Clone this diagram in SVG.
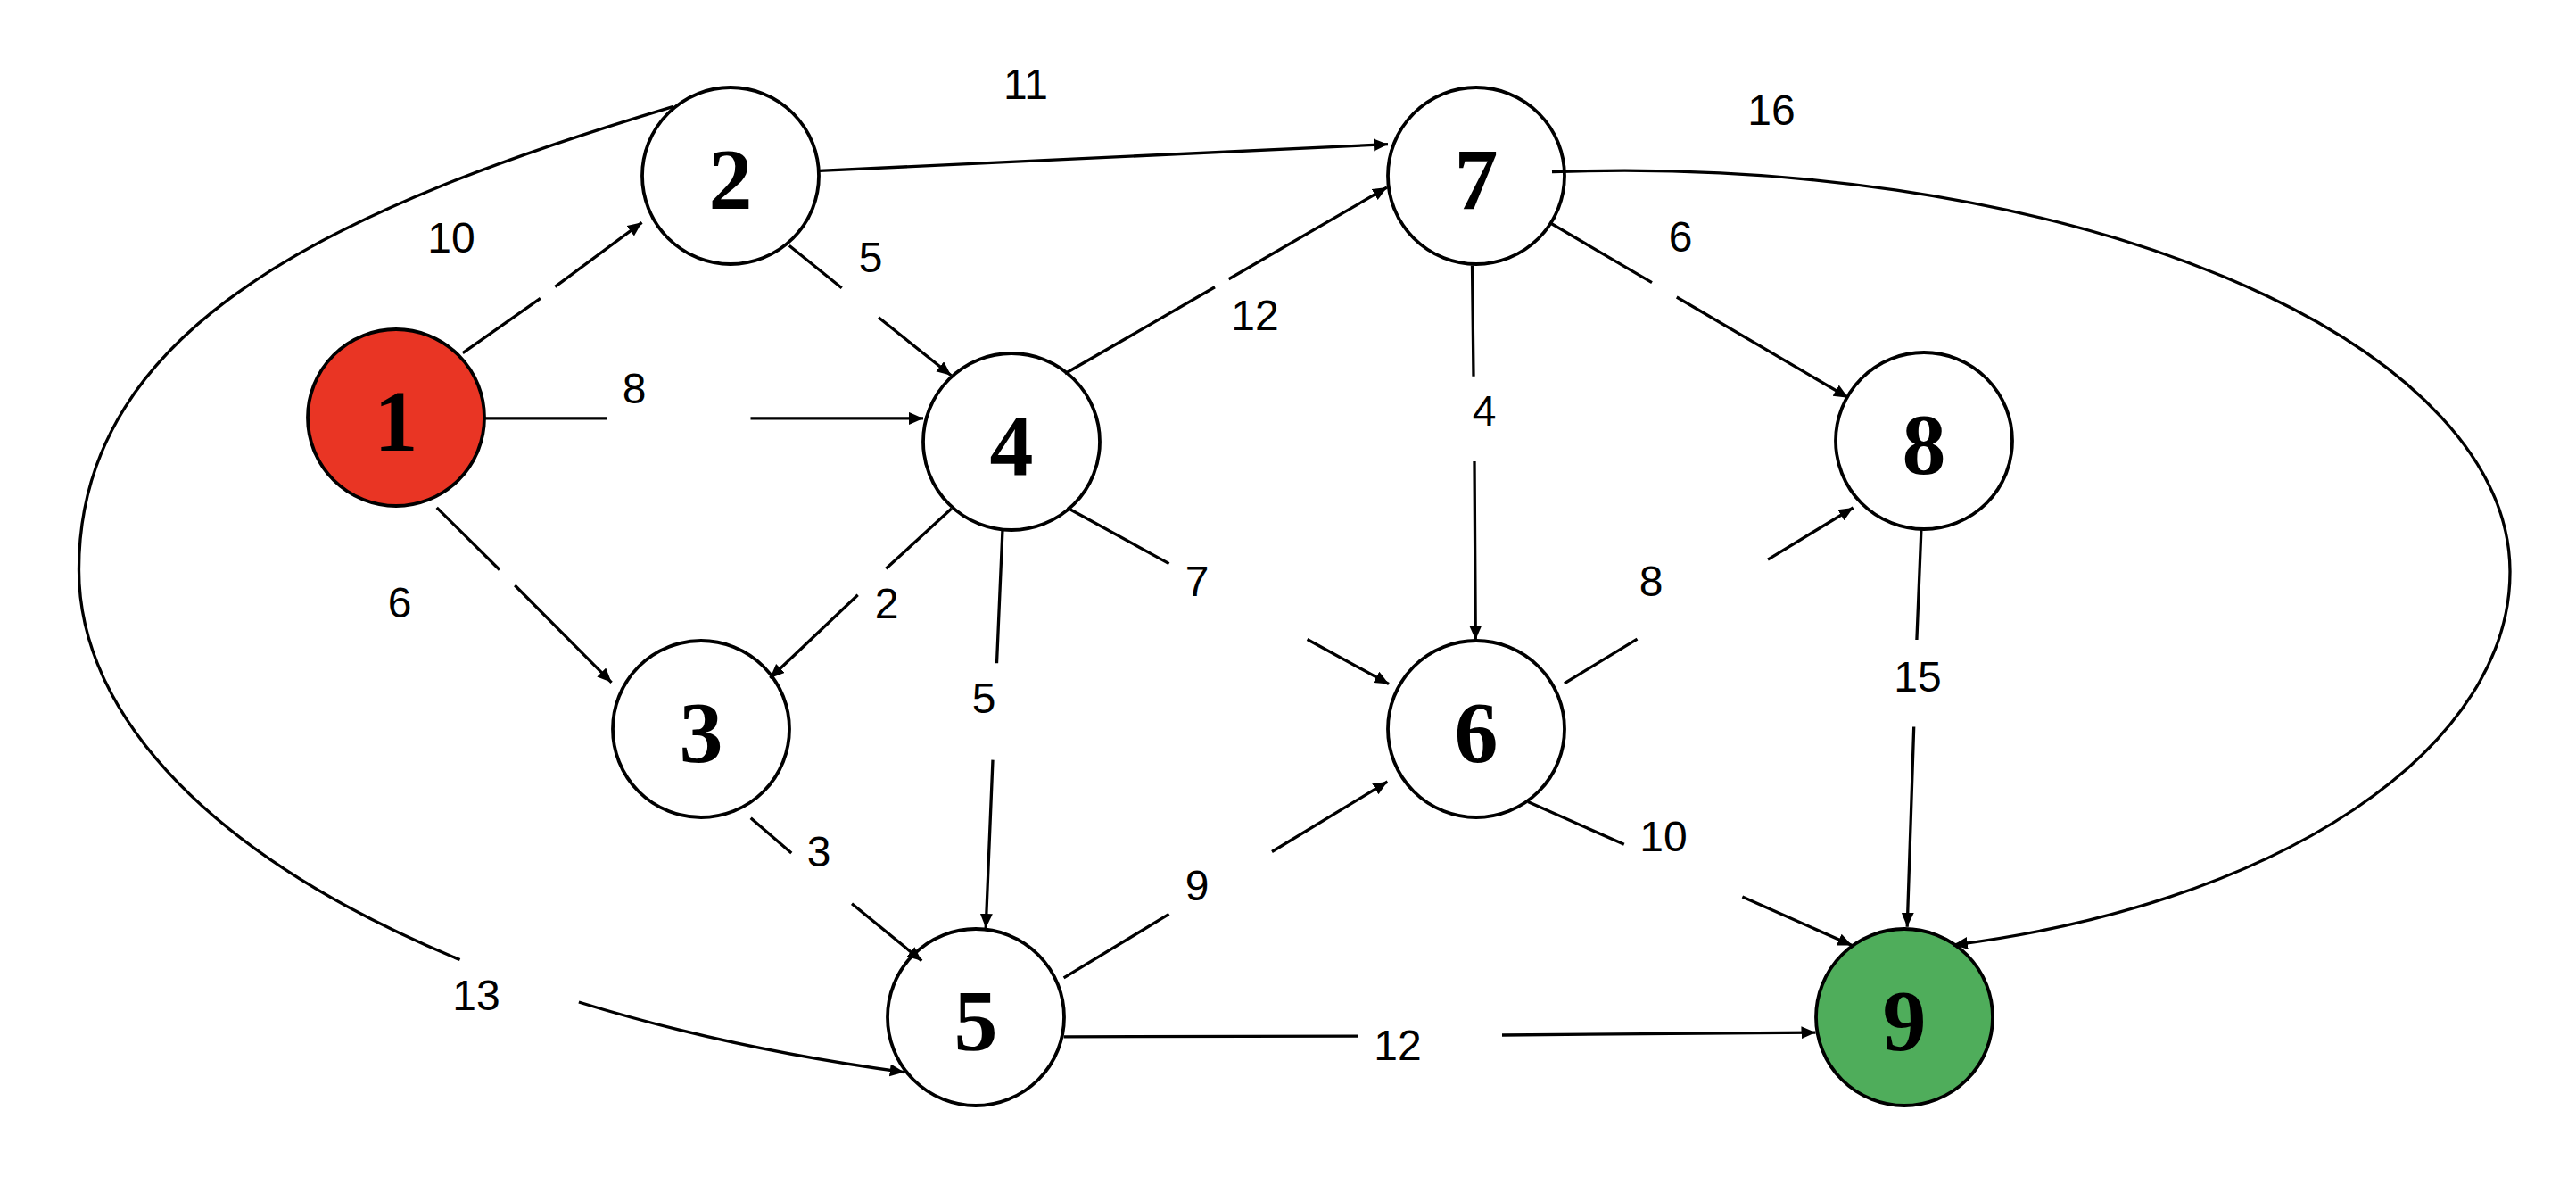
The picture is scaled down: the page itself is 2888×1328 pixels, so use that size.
<svg xmlns="http://www.w3.org/2000/svg" width="2888" height="1328" viewBox="0 0 2888 1328">
<style>
.node{fill:#fff;stroke:#000;stroke-width:3.8}
.nl{font-family:"Liberation Serif",serif;font-weight:bold;font-size:98px;text-anchor:middle;fill:#000}
.e{fill:none;stroke:#000;stroke-width:3.3;marker-end:url(#ah)}
.w{font-family:"Liberation Sans",Arial,sans-serif;font-size:48px;text-anchor:middle;fill:#000}
</style>
<defs>
<marker id="ah" markerUnits="userSpaceOnUse" markerWidth="17" markerHeight="15" refX="16" refY="7" orient="auto">
<path d="M0,0 L16,7 L0,14 z" fill="#000"/>
</marker>
</defs>
<rect width="2888" height="1328" fill="#fff"/>
<g id="node1"><circle class="node" cx="444" cy="468" r="99" style="fill:#E93524"/><text class="nl" x="444" y="505">1</text></g>
<g id="node2"><circle class="node" cx="819" cy="197" r="99"/><text class="nl" x="819" y="234">2</text></g>
<g id="node3"><circle class="node" cx="786" cy="817" r="99"/><text class="nl" x="786" y="854">3</text></g>
<g id="node4"><circle class="node" cx="1134" cy="495" r="99"/><text class="nl" x="1134" y="532">4</text></g>
<g id="node5"><circle class="node" cx="1094" cy="1140" r="99"/><text class="nl" x="1094" y="1177">5</text></g>
<g id="node6"><circle class="node" cx="1655" cy="817" r="99"/><text class="nl" x="1655" y="854">6</text></g>
<g id="node7"><circle class="node" cx="1655" cy="197" r="99"/><text class="nl" x="1655" y="234">7</text></g>
<g id="node8"><circle class="node" cx="2157" cy="494" r="99"/><text class="nl" x="2157" y="531">8</text></g>
<g id="node9"><circle class="node" cx="2135" cy="1140" r="99" style="fill:#4FAD5B"/><text class="nl" x="2135" y="1177">9</text></g>
<g id="connectors">
<path class="e" d="M518.8,395.7 L605.8,334.3 M622.3,321.4 L719.6,249.3"/>
<path class="e" d="M543.3,468.9 L680.4,468.9 M841.5,468.9 L1035,468.9"/>
<path class="e" d="M489.7,568.9 L560,638.5 M577.2,656 L685.6,764.8"/>
<path class="e" d="M918.3,191.4 L1556,161.7"/>
<path class="e" d="M884.8,275.3 L943.7,322.8 M985,355.8 L1066.3,420.7"/>
<path class="e" d="M755,119.4 C380,231.9 88.5,363 88.5,638 A1311.5,591 0 0 0 515.6,1075.5 M648.9,1123 A1311.5,591 0 0 0 1013.7,1201.6"/>
<path class="e" d="M1193.9,418.8 L1362,321.8 M1377.6,312.8 L1555,210"/>
<path class="e" d="M1066.7,570 L993.3,637.3 M961.7,666.7 L863.3,760"/>
<path class="e" d="M1124,593.3 L1117.5,743.3 M1113,851.6 L1105.2,1040"/>
<path class="e" d="M1196.4,569 L1310.6,631.6 M1465.6,716.5 L1557,766.5"/>
<path class="e" d="M841.7,916.7 L887.3,956 M955,1012.7 L1033.3,1076.7"/>
<path class="e" d="M1738.3,250 L1852,316.7 M1879.8,333 L2072,445.7"/>
<path class="e" d="M1650.5,297.4 L1652,421.7 M1653,517 L1654.3,717"/>
<path class="e" d="M1740,192.7 A994,450 0 0 1 2814,640 A814,430 0 0 1 2190,1059"/>
<path class="e" d="M1753.9,765.8 L1835.5,716.2 M1982,627.1 L2077.6,569"/>
<path class="e" d="M1713,898.5 L1820.8,946.3 M1953.4,1005 L2076.4,1059.6"/>
<path class="e" d="M1192.6,1095.9 L1310.6,1024.4 M1426,954.5 L1555.5,876"/>
<path class="e" d="M1192.6,1161.8 L1523,1161.2 M1684,1160 L2035.5,1157.1"/>
<path class="e" d="M2153.9,593.8 L2148.9,717 M2145.7,814.5 L2138.2,1038.8"/>
</g>
<g id="labels">
<text class="w" x="506" y="283">10</text>
<text class="w" x="711" y="452">8</text>
<text class="w" x="448" y="692">6</text>
<text class="w" x="1150" y="111">11</text>
<text class="w" x="976" y="305">5</text>
<text class="w" x="534" y="1132">13</text>
<text class="w" x="1407" y="370">12</text>
<text class="w" x="994" y="693">2</text>
<text class="w" x="1103" y="799">5</text>
<text class="w" x="1342" y="668">7</text>
<text class="w" x="918" y="971">3</text>
<text class="w" x="1884" y="282">6</text>
<text class="w" x="1664" y="477">4</text>
<text class="w" x="1986" y="140">16</text>
<text class="w" x="1851" y="668">8</text>
<text class="w" x="1865" y="954">10</text>
<text class="w" x="1342" y="1009">9</text>
<text class="w" x="1567" y="1188">12</text>
<text class="w" x="2150" y="775">15</text>
</g>
</svg>
